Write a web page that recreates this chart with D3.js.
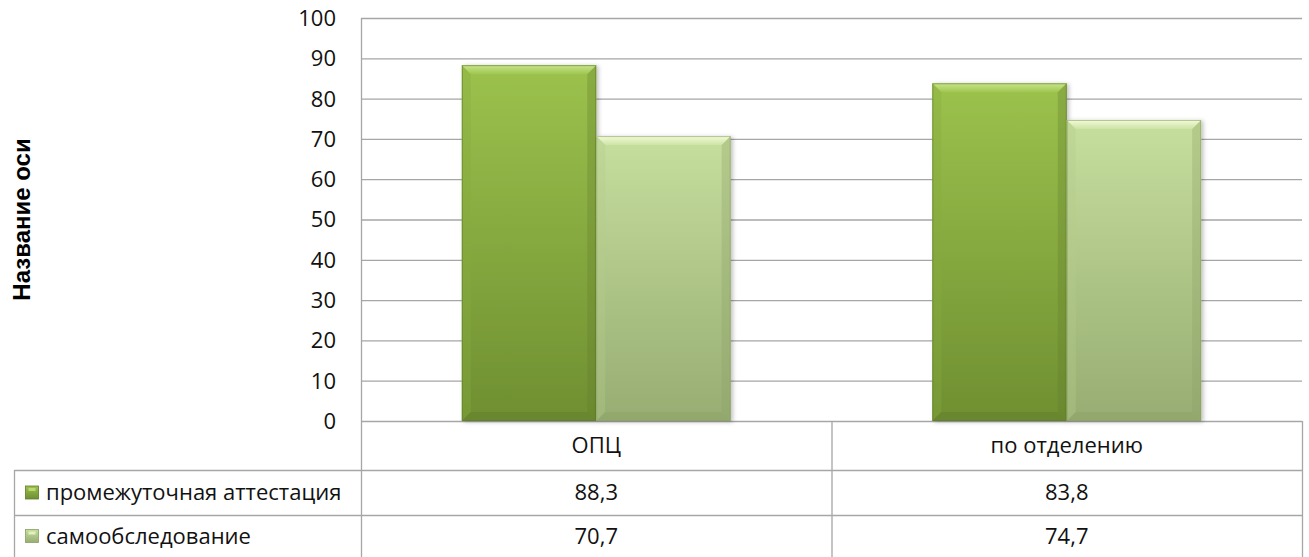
<!DOCTYPE html>
<html><head><meta charset="utf-8">
<script src="https://cdn.jsdelivr.net/npm/d3@7"></script>
<style>
html,body{margin:0;padding:0;background:#fff;}
svg{display:block;}
text{font-family:"Open Sans",sans-serif;fill:#111;}
</style></head>
<body>
<svg id="c" width="1309" height="557"></svg>
<script>
const categories = ["ОПЦ", "по отделению"];
const seriesNames = ["промежуточная аттестация", "самообследование"];
const seriesA = [88.3, 83.8];
const seriesB = [70.7, 74.7];
const yTicks = [0,10,20,30,40,50,60,70,80,90,100];
const axisTitle = "Название оси";

const svg = d3.select("#c");
const L = 361, R = 1302, T = 18, B = 421;
const FS = "22px";
const x = d3.scaleBand().domain(categories).range([L, R]).paddingInner(0).paddingOuter(0);
const x1 = d3.scaleBand().domain(seriesNames).range([0, x.bandwidth()]).paddingInner(0).paddingOuter(0.75);
const y = d3.scaleLinear().domain([0,100]).range([B, T]);

const defs = svg.append("defs");
function grad(id, stops){
  const g = defs.append("linearGradient").attr("id", id).attr("x1",0).attr("y1",0).attr("x2",0).attr("y2",1);
  stops.forEach(s => g.append("stop").attr("offset", s[0]).attr("stop-color", s[1]));
}
grad("gA", [[0,"#9cc24d"],[1,"#6f8f31"]]);
grad("gB", [[0,"#c6de9e"],[1,"#97ad72"]]);
grad("tA", [[0,"#c9e58a"],[1,"#9fc650"]]);
grad("tB", [[0,"#f4fbd8"],[1,"#cde3a6"]]);
const f = defs.append("filter").attr("id","sh").attr("x","-10%").attr("y","-10%").attr("width","130%").attr("height","120%");
f.append("feDropShadow").attr("dx",2).attr("dy",1).attr("stdDeviation",2).attr("flood-color","#000").attr("flood-opacity",0.25);

// gridlines
svg.append("g").selectAll("line").data(yTicks).join("line")
  .attr("x1", L).attr("x2", R).attr("y1", d=>y(d)+0.5).attr("y2", d=>y(d)+0.5)
  .attr("stroke", "#a6a6a6").attr("stroke-width", 1.3);
svg.append("line").attr("x1", L+0.5).attr("x2", L+0.5).attr("y1", T).attr("y2", 557).attr("stroke","#a6a6a6").attr("stroke-width",1.3);

// y tick labels
svg.append("g").selectAll("text").data(yTicks).join("text")
  .attr("x", 336).attr("y", d=>y(d)).attr("dy","0.36em").attr("text-anchor","end")
  .style("font-size",FS).text(d=>d);

// axis title
svg.append("text").attr("transform","translate(30,219.5) rotate(-90)").attr("text-anchor","middle")
  .style("font-family","'Liberation Sans',Arial,sans-serif").style("font-weight","bold").style("font-size","24px")
  .style("fill","#000").text(axisTitle);

// bars
const series = [{name:seriesNames[0], vals:seriesA, g:"gA", t:"tA", top:"#c4e07e", dark:"#5f7a2a", side:"#88ab40"},
                {name:seriesNames[1], vals:seriesB, g:"gB", t:"tB", top:"#eef8cf", dark:"#8aa064", side:"#b5cc8c"}];
const bv = 9;
series.forEach(s => {
  const g = svg.append("g");
  categories.forEach((c,i) => {
    const x0 = x(c) + x1(s.name), w = x1.bandwidth(), y0 = y(s.vals[i]), h = B - y0;
    const bg = g.append("g").attr("filter","url(#sh)");
    bg.append("rect").attr("x",x0).attr("y",y0).attr("width",w).attr("height",h).attr("fill","url(#"+s.g+")");
    bg.append("polygon").attr("points",[[x0,y0],[x0+w,y0],[x0+w-bv,y0+bv],[x0+bv,y0+bv]].join(" ")).attr("fill","url(#"+s.t+")");
    bg.append("polygon").attr("points",[[x0,y0],[x0+bv,y0+bv],[x0+bv,B-bv],[x0,B]].join(" ")).attr("fill",s.side).attr("opacity",0.35);
    bg.append("polygon").attr("points",[[x0+w,y0],[x0+w,B],[x0+w-bv,B-bv],[x0+w-bv,y0+bv]].join(" ")).attr("fill",s.dark).attr("opacity",0.3);
    bg.append("polygon").attr("points",[[x0,B],[x0+w,B],[x0+w-bv,B-bv],[x0+bv,B-bv]].join(" ")).attr("fill",s.dark).attr("opacity",0.4);
    bg.append("rect").attr("x",x0+0.5).attr("y",y0+0.5).attr("width",w-1).attr("height",h-1).attr("fill","none").attr("stroke",s.dark).attr("stroke-opacity",0.6);
  });
});

// data table
const rowY = [421, 470, 515, 557];
const tl = svg.append("g").attr("stroke","#a6a6a6").attr("stroke-width",1.3);
tl.append("line").attr("x1",14).attr("x2",R).attr("y1",rowY[1]+0.5).attr("y2",rowY[1]+0.5);
tl.append("line").attr("x1",14).attr("x2",R).attr("y1",rowY[2]+0.5).attr("y2",rowY[2]+0.5);
tl.append("line").attr("x1",14.5).attr("x2",14.5).attr("y1",rowY[1]).attr("y2",557);
tl.append("line").attr("x1",R+0.5).attr("x2",R+0.5).attr("y1",B).attr("y2",557);
tl.append("line").attr("x1",x(categories[1])+0.5).attr("x2",x(categories[1])+0.5).attr("y1",B).attr("y2",557);

svg.append("g").selectAll("text").data(categories).join("text")
  .attr("x", d=>x(d)+x.bandwidth()/2).attr("y",(rowY[0]+rowY[1])/2).attr("dy","0.36em")
  .attr("text-anchor","middle").style("font-size",FS).text(d=>d);

const fmt = v => String(v).replace(".", ",");
[seriesA, seriesB].forEach((vals, r) => {
  const cy = (rowY[r+1]+rowY[r+2])/2;
  svg.append("g").selectAll("text").data(vals).join("text")
    .attr("x",(d,i)=>x(categories[i])+x.bandwidth()/2).attr("y",cy).attr("dy","0.36em")
    .attr("text-anchor","middle").style("font-size",FS).text(fmt);
  const s = series[r];
  svg.append("rect").attr("x",25.5).attr("y",cy-6.5).attr("width",13).attr("height",13).attr("fill","url(#"+s.g+")")
    .attr("stroke",s.dark).attr("stroke-width",0.8);
  svg.append("rect").attr("x",28.5).attr("y",cy-4.5).attr("width",7).attr("height",3).attr("fill",s.top).attr("opacity",0.8);
  svg.append("text").attr("x",46).attr("y",cy).attr("dy","0.36em").style("font-size",FS).text(seriesNames[r]);
});
</script>
</body></html>
